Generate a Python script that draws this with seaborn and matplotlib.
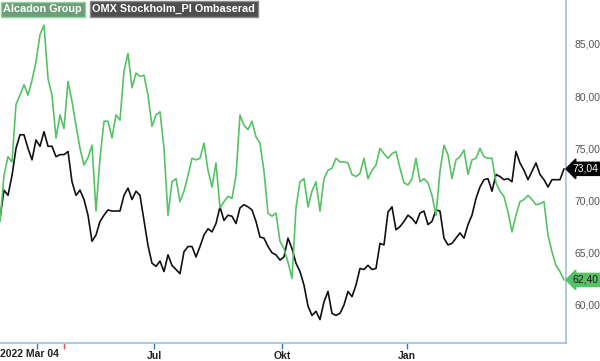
import seaborn as sns
import pandas as pd
import numpy as np
import matplotlib
matplotlib.use("Agg")
from matplotlib import pyplot as plt
from matplotlib.ticker import MultipleLocator, FuncFormatter

# series values (one point every ~4 px)
alcadon = [68.0, 72.4, 74.2, 73.7, 79.2, 80.1, 81.1, 80.1, 81.5, 83.3, 85.9, 86.8,
           81.7, 80.1, 76.0, 78.2, 76.9, 81.4, 79.5, 77.2, 75.0, 73.4, 74.1, 75.3,
           69.0, 74.05, 77.6, 77.6, 76.0, 78.2, 77.7, 82.4, 84.1, 80.8, 82.2, 81.9,
           82.0, 80.1, 77.1, 78.2, 78.5, 75.0, 68.6, 71.8, 72.1, 69.9, 70.9, 72.4,
           74.05, 73.9, 74.05, 75.5, 72.9, 71.3, 73.6, 69.3, 69.9, 70.4, 70.2, 72.4,
           78.2, 77.2, 76.8, 77.6, 76.1, 75.5, 72.8, 68.8, 68.5, 68.8, 66.1, 65.4,
           64.1, 62.55, 69.3, 71.8, 72.1, 69.4, 70.9, 71.8, 69.0, 72.1, 72.9, 73.1,
           74.05, 73.7, 73.7, 73.6, 72.5, 72.3, 72.6, 74.05, 72.1, 72.9, 73.4, 75.0,
           74.5, 74.05, 74.5, 74.7, 73.1, 71.7, 71.5, 72.1, 74.05, 71.8, 72.1, 71.7,
           70.5, 68.6, 72.8, 75.3, 74.4, 72.1, 73.9, 74.2, 74.85, 72.5, 73.9, 74.05,
           75.0, 74.2, 74.05, 74.05, 71.7, 70.9, 70.4, 68.9, 67.0, 68.6, 69.9, 70.1,
           70.5, 70.1, 69.6, 69.7, 69.9, 66.7, 65.1, 63.8, 63.2, 62.4]

omx = [68.3, 71.0, 70.5, 72.4, 75.0, 76.3, 76.3, 75.0, 73.9, 75.8, 75.2, 76.6,
       75.2, 75.2, 74.2, 74.4, 74.4, 74.7, 71.8, 70.5, 71.0, 70.1, 68.6, 66.1,
       66.7, 68.0, 68.6, 69.1, 69.0, 69.0, 69.0, 70.5, 71.2, 70.1, 70.9, 70.5,
       68.1, 65.7, 64.0, 63.7, 64.2, 63.2, 64.8, 63.8, 63.4, 63.0, 65.1, 65.6,
       65.6, 64.6, 65.6, 66.7, 67.3, 67.0, 67.8, 69.4, 68.1, 68.6, 68.5, 67.8,
       69.3, 69.6, 69.4, 69.1, 68.0, 66.5, 66.4, 65.6, 65.0, 64.8, 64.3, 64.6,
       66.4, 65.4, 64.0, 63.2, 61.9, 59.9, 59.0, 59.4, 58.6, 60.3, 61.3, 59.2,
       59.0, 59.2, 60.0, 61.3, 60.8, 61.9, 63.5, 63.4, 63.8, 63.4, 63.5, 65.9,
       65.75, 68.9, 69.4, 67.2, 67.5, 68.0, 68.6, 68.3, 67.8, 68.8, 69.0, 67.7,
       68.0, 69.1, 69.0, 66.4, 65.75, 65.9, 66.4, 66.9, 66.4, 67.7, 68.6, 70.2,
       71.3, 72.0, 72.1, 70.9, 72.5, 72.3, 72.0, 72.1, 71.8, 74.7, 73.6, 72.9,
       72.0, 72.8, 73.6, 72.5, 72.0, 71.3, 72.0, 72.0, 72.0, 73.04]

series_names = ["Alcadon Group", "OMX Stockholm_PI Ombaserad"]
tick_pos = [9.25, 38.6, 70.5, 101.75]
tick_labels = ["", "Jul", "Okt", "Jan"]
first_label = "2022 Mar 04"
marker_pos = [16.1]   # small red marker tick on the time axis

GREEN = "#55c266"
BLACK = "#111111"
EDGE = "#9ec0d8"

df = pd.DataFrame({
    "i": list(range(len(alcadon))) * 2,
    "value": alcadon + omx,
    "series": [series_names[0]] * len(alcadon) + [series_names[1]] * len(omx),
})

sns.set_theme(style="white")
plt.rcParams["font.family"] = ["Liberation Sans", "DejaVu Sans"]

fig = plt.figure(figsize=(6.0, 3.61), dpi=100)
ax = fig.add_axes([0.0, 0.0499, 0.9433, 0.9501])

sns.lineplot(data=df, x="i", y="value", hue="series", hue_order=series_names[::-1],
             palette={series_names[0]: GREEN, series_names[1]: BLACK},
             linewidth=1.2, legend=False, ax=ax)

ax.set_xlim(0, 141.5)
ax.set_ylim(56.36, 89.21)
ax.set_xlabel("")
ax.set_ylabel("")

for s in ["top", "left"]:
    ax.spines[s].set_visible(False)
for s in ["right", "bottom"]:
    ax.spines[s].set_color(EDGE)
    ax.spines[s].set_linewidth(1.2)

ax.yaxis.tick_right()
ax.yaxis.set_major_locator(MultipleLocator(5))
ax.yaxis.set_major_formatter(FuncFormatter(lambda v, p: f"{v:.2f}".replace(".", ",")))
ax.tick_params(axis="y", length=0, pad=6, labelsize=7.5, labelcolor="#555555")

ax.set_xticks(tick_pos)
ax.set_xticklabels(tick_labels)
ax.set_xticks(marker_pos, minor=True)
ax.tick_params(axis="x", which="major", bottom=True, length=4, width=1, color="#3b78aa",
               pad=2, labelsize=7.5, labelcolor="#222222")
ax.tick_params(axis="x", which="minor", bottom=True, length=4, width=1, color="#e05050")
for lab in ax.get_xticklabels():
    lab.set_fontweight("bold")
ax.text(0.0, -0.018, first_label, transform=ax.transAxes, ha="left", va="top",
        fontsize=7.5, fontweight="bold", color="#222222")

# series legend boxes
ax.text(0.006, 0.973, series_names[0], transform=ax.transAxes, ha="left", va="center",
        fontsize=7.8, fontweight="bold", color="white",
        bbox=dict(boxstyle="square,pad=0.25", fc="#6c9e78", ec="#8fd49f", lw=1))
ax.text(0.163, 0.973, series_names[1], transform=ax.transAxes, ha="left", va="center",
        fontsize=7.8, fontweight="bold", color="white",
        bbox=dict(boxstyle="square,pad=0.25", fc="#4f4f4f", ec="#8a8a8a", lw=1))

# last value tags
ax.annotate(f"{omx[-1]:.2f}".replace(".", ","), xy=(1.0, omx[-1]),
            xycoords=("axes fraction", "data"), xytext=(5, 0), textcoords="offset points",
            ha="left", va="center", fontsize=7.5, color="white", annotation_clip=False,
            bbox=dict(boxstyle="larrow,pad=0.15", fc="black", ec="black"))
ax.annotate(f"{alcadon[-1]:.2f}".replace(".", ","), xy=(1.0, alcadon[-1]),
            xycoords=("axes fraction", "data"), xytext=(5, 0), textcoords="offset points",
            ha="left", va="center", fontsize=7.5, color="#1a1a1a", annotation_clip=False,
            bbox=dict(boxstyle="larrow,pad=0.15", fc=GREEN, ec=GREEN))

fig.savefig("out.png", dpi=100)
